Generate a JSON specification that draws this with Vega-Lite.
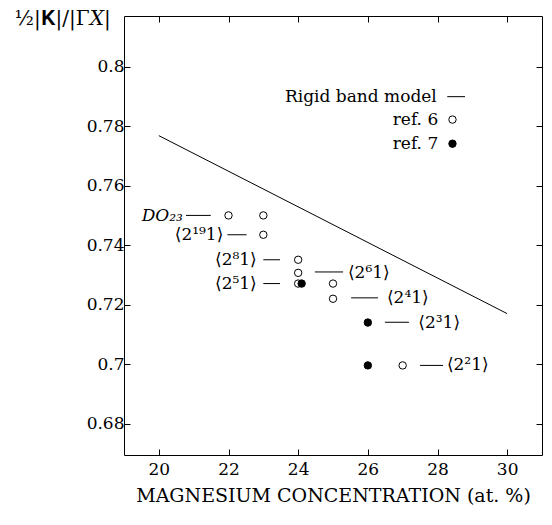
{
  "$schema": "https://vega.github.io/schema/vega-lite/v6.json",
  "autosize": "none",
  "width": 418,
  "height": 439,
  "padding": {"left": 124, "top": 16, "right": 10, "bottom": 70},
  "background": "white",
  "config": {
    "view": {"stroke": "black", "strokeWidth": 1},
    "axis": {"grid": false, "domain": false, "tickColor": "black", "tickSize": -6, "tickWidth": 1, "labelFont": "DejaVu Serif", "labelFontSize": 17, "labelColor": "black", "titleFont": "DejaVu Serif", "titleFontWeight": "normal", "titleFontSize": 17, "titleColor": "black"},
    "text": {"font": "DejaVu Serif", "fontSize": 17, "color": "black"}
  },
  "datasets": {
    "line": [
      {"x": 20, "y": 0.7768},
      {"x": 30, "y": 0.717}
    ],
    "points": [
      {"x": 22, "y": 0.75, "ref": "ref. 6"},
      {"x": 23, "y": 0.75, "ref": "ref. 6"},
      {"x": 23, "y": 0.7435, "ref": "ref. 6"},
      {"x": 24, "y": 0.7351, "ref": "ref. 6"},
      {"x": 24, "y": 0.7307, "ref": "ref. 6"},
      {"x": 24, "y": 0.7271, "ref": "ref. 6"},
      {"x": 25, "y": 0.7271, "ref": "ref. 6"},
      {"x": 25, "y": 0.722, "ref": "ref. 6"},
      {"x": 27, "y": 0.6996, "ref": "ref. 6"},
      {"x": 28.43, "y": 0.7822, "ref": "ref. 6"},
      {"x": 24.1, "y": 0.7271, "ref": "ref. 7"},
      {"x": 26, "y": 0.714, "ref": "ref. 7"},
      {"x": 26, "y": 0.6996, "ref": "ref. 7"},
      {"x": 28.43, "y": 0.7741, "ref": "ref. 7"}
    ],
    "dashes": [
      {"x": 20.78, "x2": 21.49, "y": 0.75},
      {"x": 21.97, "x2": 22.52, "y": 0.7435},
      {"x": 23.0, "x2": 23.48, "y": 0.7351},
      {"x": 23.0, "x2": 23.48, "y": 0.7271},
      {"x": 24.48, "x2": 25.29, "y": 0.731},
      {"x": 25.52, "x2": 26.29, "y": 0.7223},
      {"x": 26.49, "x2": 27.18, "y": 0.7141},
      {"x": 27.5, "x2": 28.16, "y": 0.6996},
      {"x": 28.28, "x2": 28.79, "y": 0.7899}
    ],
    "labelsRight": [
      {"x": 21.85, "y": 0.7435, "label": "⟨2¹⁹1⟩"},
      {"x": 22.81, "y": 0.7351, "label": "⟨2⁸1⟩"},
      {"x": 22.81, "y": 0.7271, "label": "⟨2⁵1⟩"},
      {"x": 27.98, "y": 0.7899, "label": "Rigid band model"},
      {"x": 28.02, "y": 0.7822, "label": "ref. 6"},
      {"x": 28.02, "y": 0.7741, "label": "ref. 7"}
    ],
    "labelsItalic": [
      {"x": 20.69, "y": 0.7499, "label": "DO₂₃"}
    ],
    "labelsLeft": [
      {"x": 25.43, "y": 0.7305, "label": "⟨2⁶1⟩"},
      {"x": 26.55, "y": 0.7223, "label": "⟨2⁴1⟩"},
      {"x": 27.45, "y": 0.714, "label": "⟨2³1⟩"},
      {"x": 28.27, "y": 0.6996, "label": "⟨2²1⟩"}
    ]
  },
  "resolve": {"axis": {"x": "independent", "y": "independent"}},
  "layer": [
    {
      "data": {"name": "line"},
      "mark": {"type": "line", "color": "black", "strokeWidth": 1},
      "encoding": {
        "x": {"field": "x", "type": "quantitative", "scale": {"domain": [19, 31], "nice": false, "zero": false},
          "axis": {"orient": "bottom", "values": [20, 22, 24, 26, 28, 30], "labelPadding": 12, "title": "MAGNESIUM CONCENTRATION (at. %)", "titleFontSize": 19, "titlePadding": 9}},
        "y": {"field": "y", "type": "quantitative", "scale": {"domain": [0.6695, 0.817], "nice": false, "zero": false},
          "axis": {"orient": "left", "values": [0.68, 0.7, 0.72, 0.74, 0.76, 0.78, 0.8], "labelPadding": 6, "labelExpr": "datum.value == 0.7 ? '0.7' : datum.value == 0.8 ? '0.8' : format(datum.value, '.2f')", "title": "½|𝐊|/|Γ𝑋|", "titleAngle": 0, "titleAlign": "left", "titleBaseline": "middle", "titleFontSize": 20, "titleX": -110, "titleY": 2}}
      }
    },
    {
      "data": {"name": "line"},
      "mark": {"type": "line", "opacity": 0},
      "encoding": {
        "x": {"field": "x", "type": "quantitative", "axis": {"orient": "top", "values": [20, 22, 24, 26, 28, 30], "labels": false, "title": null}},
        "y": {"field": "y", "type": "quantitative", "axis": {"orient": "right", "values": [0.68, 0.7, 0.72, 0.74, 0.76, 0.78, 0.8], "labels": false, "title": null}}
      }
    },
    {
      "data": {"name": "dashes"},
      "mark": {"type": "rule", "color": "black", "strokeWidth": 1},
      "encoding": {
        "x": {"field": "x", "type": "quantitative", "axis": null},
        "x2": {"field": "x2"},
        "y": {"field": "y", "type": "quantitative", "axis": null}
      }
    },
    {
      "data": {"name": "points"},
      "mark": {"type": "point", "shape": "circle", "size": 55, "strokeWidth": 1, "opacity": 1},
      "encoding": {
        "x": {"field": "x", "type": "quantitative", "axis": null},
        "y": {"field": "y", "type": "quantitative", "axis": null},
        "fill": {"field": "ref", "type": "nominal", "scale": {"domain": ["ref. 6", "ref. 7"], "range": ["white", "black"]}, "legend": null},
        "stroke": {"value": "black"},
        "fillOpacity": {"value": 1}
      }
    },
    {
      "data": {"name": "labelsRight"},
      "mark": {"type": "text", "align": "right", "baseline": "middle"},
      "encoding": {
        "x": {"field": "x", "type": "quantitative", "axis": null},
        "y": {"field": "y", "type": "quantitative", "axis": null},
        "text": {"field": "label"}
      }
    },
    {
      "data": {"name": "labelsItalic"},
      "mark": {"type": "text", "align": "right", "baseline": "middle", "fontStyle": "italic"},
      "encoding": {
        "x": {"field": "x", "type": "quantitative", "axis": null},
        "y": {"field": "y", "type": "quantitative", "axis": null},
        "text": {"field": "label"}
      }
    },
    {
      "data": {"name": "labelsLeft"},
      "mark": {"type": "text", "align": "left", "baseline": "middle"},
      "encoding": {
        "x": {"field": "x", "type": "quantitative", "axis": null},
        "y": {"field": "y", "type": "quantitative", "axis": null},
        "text": {"field": "label"}
      }
    }
  ]
}
